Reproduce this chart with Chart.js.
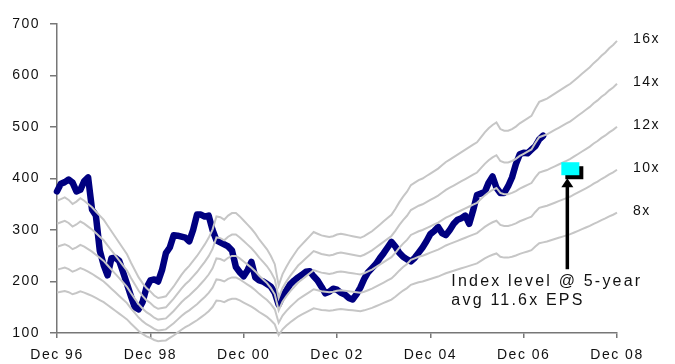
<!DOCTYPE html>
<html><head><meta charset="utf-8">
<script src="https://cdn.jsdelivr.net/npm/chart.js@4.4.0/dist/chart.umd.min.js"></script>
<style>html,body{margin:0;padding:0;background:#fff;overflow:hidden}#c{display:block}</style>
</head><body>
<canvas id="c" width="675" height="364"></canvas>
<script>
// x = months since Dec 96
const xTickLabels = ['Dec 96','Dec 98','Dec 00','Dec 02','Dec 04','Dec 06','Dec 08'];
const yTickValues = [100,200,300,400,500,600,700];

// EPS (monthly, Dec 96 .. Dec 08, incl. forecasts)
const eps = [
22.3,22.5,22.7,22.4,21.9,22.2,22.6,22.3,21.9,21.5,21.0,20.5,
20.0,19.3,18.6,17.9,17.2,16.5,15.8,14.8,13.9,13.0,12.3,11.7,
11.3,10.8,10.5,10.6,10.7,11.3,11.9,12.6,13.3,13.9,14.4,15.0,
15.6,16.3,17.0,17.8,18.8,20.4,20.3,20.0,20.5,20.8,20.8,20.4,
19.9,19.4,18.9,18.3,17.6,17.0,16.4,15.6,14.6,12.0,13.4,14.3,
15.1,15.8,16.5,17.0,17.5,18.0,18.5,18.3,18.1,18.0,17.9,18.0,
18.2,18.3,18.2,18.1,18.0,17.9,17.8,18.0,18.3,18.6,19.0,19.4,
19.8,20.2,20.6,21.3,22.1,22.8,23.4,24.2,24.5,24.8,25.0,25.3,
25.6,25.9,26.2,26.6,27.0,27.3,27.6,27.9,28.2,28.5,28.8,29.1,
29.4,30.0,30.6,31.1,31.5,31.8,31.0,30.8,30.8,31.0,31.3,31.7,
32.0,32.3,32.6,33.5,34.3,34.5,34.7,35.0,35.3,35.6,35.9,36.2,
36.5,36.9,37.3,37.7,38.1,38.5,39.0,39.4,39.9,40.3,40.8,41.2,
41.7];

// Index level (monthly, Dec 96 .. May 07)
const indexLevel = [
375,390,393,398,392,375,378,395,402,340,328,260,
232,212,245,246,240,218,195,172,150,146,160,188,
202,204,200,222,255,266,290,289,287,285,278,300,
330,330,326,328,300,280,276,272,268,260,228,218,
210,222,238,208,202,200,195,190,178,155,172,183,
195,202,208,213,219,220,210,202,190,177,180,186,
184,178,175,168,165,175,188,205,218,226,234,245,
255,266,277,268,256,248,243,239,246,256,266,278,
292,298,306,294,290,300,312,320,323,328,312,338,
368,371,374,392,404,382,372,372,385,402,428,447,
450,449,456,463,476,483];

const multiples = [16,14,12,10,8];
const multipleLabels = ['16x','14x','12x','10x','8x'];

const targetMonth = 132;
const targetValue = 418;
const noteLines = ['Index level @ 5-year','avg 11.6x EPS'];

const FONT = '"Liberation Sans", Arial, Helvetica, sans-serif';

const grayDatasets = multiples.map((m) => ({
  label: m + 'x',
  data: eps.map((e, i) => ({x: i, y: e * m})),
  borderColor: '#c6c6c6',
  borderWidth: 2,
  pointRadius: 0,
  tension: 0,
  clip: false
}));
const blueDataset = {
  label: 'Index',
  data: indexLevel.map((v, i) => ({x: i, y: v})),
  borderColor: '#000080',
  borderWidth: 6.5,
  pointRadius: 0,
  tension: 0,
  borderJoinStyle: 'round',
  borderCapStyle: 'round',
  clip: false
};

const spacingPlugin = {
  id: 'spacing',
  beforeDraw(chart) { chart.ctx.letterSpacing = '1.5px'; }
};

const notesPlugin = {
  id: 'notes',
  afterDraw(chart) {
    const ctx = chart.ctx;
    const xs = chart.scales.x, ys = chart.scales.y;
    ctx.save();
    ctx.letterSpacing = '1.5px';
    ctx.font = '14px ' + FONT;
    ctx.fillStyle = '#111';
    ctx.textAlign = 'left';
    ctx.textBaseline = 'middle';
    const last = eps[eps.length - 1];
    multiples.forEach((m, k) => {
      const y = ys.getPixelForValue(last * m) - 1.5;
      ctx.fillText(multipleLabels[k], 633, y);
    });
    const px = xs.getPixelForValue(targetMonth);
    const py = ys.getPixelForValue(targetValue);
    ctx.fillStyle = '#000';
    ctx.fillRect(px - 5, py - 3, 18, 13);
    ctx.fillStyle = '#00ffff';
    ctx.fillRect(px - 9, py - 7, 18, 13);
    // arrow
    const ax = px - 3;
    ctx.strokeStyle = '#000';
    ctx.lineWidth = 3.5;
    ctx.beginPath();
    ctx.moveTo(ax, py + 100);
    ctx.lineTo(ax, py + 16);
    ctx.stroke();
    ctx.fillStyle = '#000';
    ctx.beginPath();
    ctx.moveTo(ax, py + 9);
    ctx.lineTo(ax - 6, py + 18);
    ctx.lineTo(ax + 6, py + 18);
    ctx.closePath();
    ctx.fill();
    // note text
    ctx.letterSpacing = '2.2px';
    ctx.font = '16px ' + FONT;
    ctx.fillStyle = '#111';
    ctx.fillText(noteLines[0], px - 119, py + 112);
    ctx.fillText(noteLines[1], px - 119, py + 131);
    ctx.restore();
  }
};

new Chart(document.getElementById('c').getContext('2d'), {
  type: 'line',
  data: { datasets: [...grayDatasets, blueDataset] },
  options: {
    responsive: false,
    animation: false,
    devicePixelRatio: 1,
    layout: { padding: { top: 24, right: 58, bottom: 0, left: 0 } },
    plugins: { legend: { display: false }, tooltip: { enabled: false } },
    scales: {
      x: {
        type: 'linear',
        min: 0, max: 144,
        afterFit(s) { s.height = 31; },
        border: { display: true, color: '#777', width: 1.5 },
        grid: { drawOnChartArea: false, drawTicks: true, tickLength: 5, color: '#777', lineWidth: 1.5 },
        afterBuildTicks(s) { s.ticks = xTickLabels.map((_, i) => ({value: i * 24})); },
        ticks: {
          autoSkip: false, maxRotation: 0, padding: 9,
          color: '#111', font: { family: FONT, size: 14 },
          callback: (v) => xTickLabels[Math.round(v / 24)]
        }
      },
      y: {
        min: 100, max: 700,
        afterFit(s) { s.width = 57; },
        border: { display: true, color: '#777', width: 1.5 },
        grid: { drawOnChartArea: false, drawTicks: true, tickLength: 7, color: '#777', lineWidth: 1.5 },
        afterBuildTicks(s) { s.ticks = yTickValues.map(v => ({value: v})); },
        ticks: {
          padding: 10, color: '#111', font: { family: FONT, size: 14 },
          callback: (v) => String(v)
        }
      }
    }
  },
  plugins: [spacingPlugin, notesPlugin]
});
</script>
</body></html>
